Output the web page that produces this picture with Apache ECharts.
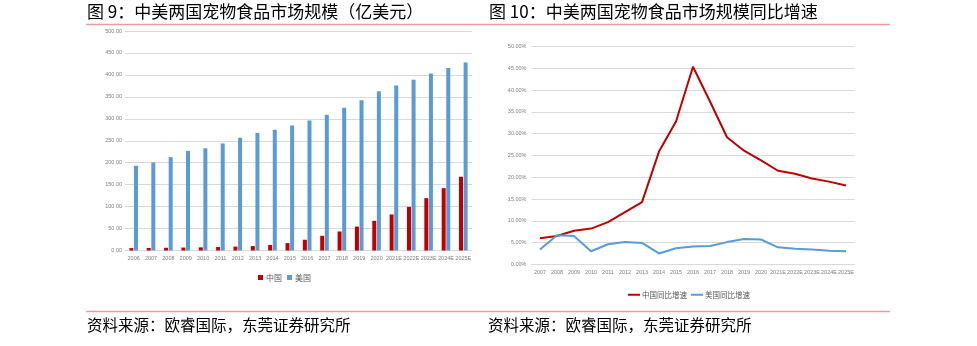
<!DOCTYPE html>
<html>
<head>
<meta charset="utf-8">
<script src="https://cdn.jsdelivr.net/npm/echarts@6/dist/echarts.min.js"></script>
<style>
html,body{margin:0;padding:0;background:#fff;}
#c{width:977px;height:346px;}
</style>
</head>
<body>
<div id="c"></div>
<script>
// ---- data ----
var barYears = ['2006','2007','2008','2009','2010','2011','2012','2013','2014','2015','2016','2017','2018','2019','2020','2021E','2022E','2023E','2024E','2025E'];
var chinaSize = [5.5, 5.8, 6.2, 6.7, 7.2, 7.9, 8.9, 10.1, 12.7, 16.8, 24.5, 33.5, 43.3, 54.5, 67.6, 82.2, 99.4, 119.3, 142, 168];
var usSize = [193, 200.7, 212.8, 227, 233, 243.9, 256.8, 268, 275, 284.8, 296, 309, 325, 342, 362.8, 376, 389, 403, 416, 428];

var lineYears = ['2007','2008','2009','2010','2011','2012','2013','2014','2015','2016','2017','2018','2019','2020','2021E','2022E','2023E','2024E','2025E'];
var chinaGrowth = [6.0, 6.5, 7.7, 8.2, 9.7, 12.0, 14.3, 25.9, 32.8, 45.4, 37.4, 29.2, 26.1, 23.9, 21.5, 20.8, 19.7, 19.0, 18.1];
var usGrowth = [3.4, 6.7, 6.5, 3.0, 4.6, 5.1, 4.9, 2.5, 3.7, 4.1, 4.2, 5.1, 5.8, 5.7, 3.9, 3.6, 3.4, 3.1, 3.0];

var leftTitle = '图 9：中美两国宠物食品市场规模（亿美元）';
var rightTitle = '图 10：中美两国宠物食品市场规模同比增速';
var sourceText = '资料来源：欧睿国际，东莞证券研究所';

var RED = '#C00000', BLUE = '#5B9BD5';
var CJK = '"Noto Sans CJK SC", sans-serif';
var axisFont = {fontSize: 5.5, color: '#7f7f7f', fontFamily: 'Liberation Sans, sans-serif'};

var chart = echarts.init(document.getElementById('c'), null, {renderer: 'canvas'});
chart.setOption({
  animation: false,
  backgroundColor: '#fff',
  title: [
    {text: leftTitle, left: 87, top: 3, padding: 0, textStyle: {fontSize: 17, fontWeight: 'normal', color: '#000', fontFamily: CJK}},
    {text: rightTitle, left: 489, top: 3, padding: 0, textStyle: {fontSize: 17, fontWeight: 'normal', color: '#000', fontFamily: CJK}},
    {text: sourceText, left: 87, top: 317, padding: 0, textStyle: {fontSize: 15.5, fontWeight: 'normal', color: '#000', fontFamily: CJK}},
    {text: sourceText, left: 488, top: 317, padding: 0, textStyle: {fontSize: 15.5, fontWeight: 'normal', color: '#000', fontFamily: CJK}}
  ],
  graphic: [
    {type: 'line', shape: {x1: 86, y1: 24.5, x2: 890, y2: 24.5}, style: {stroke: '#EE9AA2', lineWidth: 1.5}},
    {type: 'line', shape: {x1: 86, y1: 311.5, x2: 890, y2: 311.5}, style: {stroke: '#EE9AA2', lineWidth: 1.5}}
  ],
  legend: [
    {
      data: ['中国', '美国'], left: 258, top: 273.5, padding: 0, itemWidth: 5, itemHeight: 5, itemGap: 5,
      icon: 'rect', textStyle: {fontSize: 8, color: '#595959', fontFamily: CJK, padding: [0,0,0,-2]}
    },
    {
      data: ['中国同比增速', '美国同比增速'], left: 628, top: 291, padding: 0, itemWidth: 12, itemHeight: 2, itemGap: 4,
      icon: 'rect', textStyle: {fontSize: 7.5, color: '#595959', fontFamily: CJK, padding: [0,0,0,-3]}
    }
  ],
  grid: [
    {left: 125, top: 31, width: 347, height: 219.5},
    {left: 531.5, top: 46.7, width: 323, height: 217.6}
  ],
  xAxis: [
    {
      type: 'category', gridIndex: 0, data: barYears,
      axisLine: {lineStyle: {color: '#d9d9d9'}}, axisTick: {show: false},
      axisLabel: Object.assign({margin: 5, interval: 0}, axisFont)
    },
    {
      type: 'category', gridIndex: 1, data: lineYears,
      axisLine: {lineStyle: {color: '#d9d9d9'}}, axisTick: {show: false},
      axisLabel: Object.assign({margin: 5, interval: 0}, axisFont)
    }
  ],
  yAxis: [
    {
      type: 'value', gridIndex: 0, min: 0, max: 500, interval: 50,
      axisLine: {show: false}, axisTick: {show: false},
      splitLine: {lineStyle: {color: '#d9d9d9', width: 1}},
      axisLabel: Object.assign({margin: 3, formatter: function (v) { return v.toFixed(2); }}, axisFont)
    },
    {
      type: 'value', gridIndex: 1, min: 0, max: 50, interval: 5,
      axisLine: {show: false}, axisTick: {show: false},
      splitLine: {lineStyle: {color: '#d9d9d9', width: 1}},
      axisLabel: Object.assign({margin: 5, formatter: function (v) { return v.toFixed(2) + '%'; }}, axisFont)
    }
  ],
  series: [
    {name: '中国', type: 'bar', xAxisIndex: 0, yAxisIndex: 0, data: chinaSize, barWidth: 4, barGap: '15%', itemStyle: {color: RED}},
    {name: '美国', type: 'bar', xAxisIndex: 0, yAxisIndex: 0, data: usSize, barWidth: 4, barGap: '15%', itemStyle: {color: BLUE}},
    {name: '中国同比增速', type: 'line', xAxisIndex: 1, yAxisIndex: 1, data: chinaGrowth, showSymbol: false, symbol: 'none',
      lineStyle: {color: RED, width: 2}, itemStyle: {color: RED}},
    {name: '美国同比增速', type: 'line', xAxisIndex: 1, yAxisIndex: 1, data: usGrowth, showSymbol: false, symbol: 'none',
      lineStyle: {color: BLUE, width: 2}, itemStyle: {color: BLUE}}
  ]
});
</script>
</body>
</html>
